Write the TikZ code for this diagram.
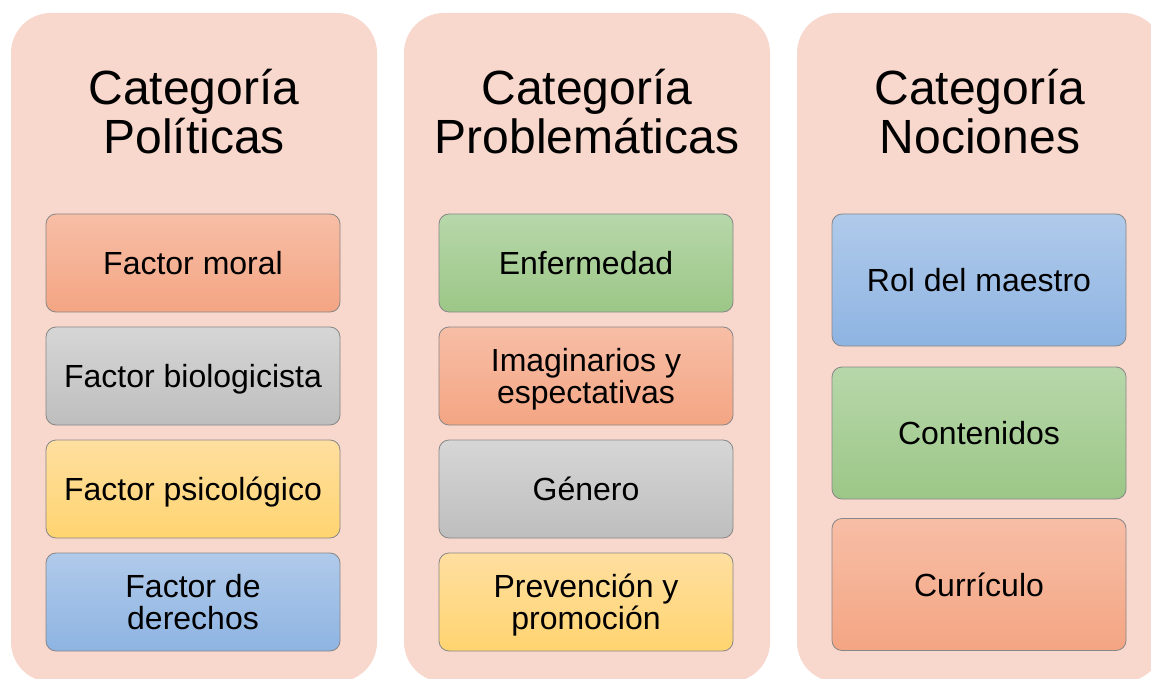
\documentclass[tikz,border=0pt]{standalone}
\usepackage{fontspec}
\setmainfont{Liberation Sans}
\definecolor{panelfill}{RGB}{248,215,205}
\definecolor{edge}{RGB}{135,135,135}
\definecolor{orangetop}{RGB}{247,190,166}
\definecolor{orangebot}{RGB}{244,165,131}
\definecolor{greytop}{RGB}{214,214,214}
\definecolor{greybot}{RGB}{190,190,190}
\definecolor{yellowtop}{RGB}{255,223,160}
\definecolor{yellowbot}{RGB}{255,212,112}
\definecolor{bluetop}{RGB}{176,202,234}
\definecolor{bluebot}{RGB}{142,180,226}
\definecolor{greentop}{RGB}{183,215,170}
\definecolor{greenbot}{RGB}{156,199,135}
\tikzset{
  panel/.style={fill=panelfill, rounded corners=40pt, minimum width=366pt, minimum height=669pt, inner sep=0pt},
  title/.style={align=center, anchor=base, inner sep=0pt, font=\fontsize{48}{49}\selectfont},
  item/.style={draw=edge, line width=0.8pt, rounded corners=10pt, minimum width=294pt, minimum height=98pt, inner sep=0pt, align=center, font=\fontsize{32}{32}\selectfont, text height=23pt, text depth=0pt},
  twoline/.style={text height=55pt},
  tall/.style={minimum height=132pt},
  orangebox/.style={top color=orangetop, bottom color=orangebot},
  greybox/.style={top color=greytop, bottom color=greybot},
  yellowbox/.style={top color=yellowtop, bottom color=yellowbot},
  bluebox/.style={top color=bluetop, bottom color=bluebot},
  greenbox/.style={top color=greentop, bottom color=greenbot}
}
\begin{document}
\begin{tikzpicture}[x=1pt, y=-1pt]
            \useasboundingbox (0,0) rectangle (1151,679);
            \node (pol) at (194,347.5) [panel] {};
            \node (pro) at (587,347.5) [panel] {};
            \node (noc) at (980,347.5) [panel] {};
            
            \node (tpol) at (194,154) [title] {Categoría\\Políticas};
            \node (tpro) at (587,154) [title] {Categoría\\Problemáticas};
            \node (tnoc) at (980,154) [title] {Categoría\\Nociones};
            
            % politicas
            \node (moral) at (193,263) [item, orangebox] {Factor moral};
            \node (bio) at (193,376) [item, greybox] {Factor biologicista};
            \node (psico) at (193,489) [item, yellowbox] {Factor psicológico};
            \node (der) at (193,602) [item, twoline, bluebox] {Factor de\\derechos};
            
            % problematicas
            \node (enf) at (586,263) [item, greenbox] {Enfermedad};
            \node (ima) at (586,376) [item, twoline, orangebox] {Imaginarios y\\espectativas};
            \node (gen) at (586,489) [item, greybox] {Género};
            \node (prev) at (586,602) [item, twoline, yellowbox] {Prevención y\\promoción};
            
            % nociones
            \node (rol) at (979,280) [item, tall, bluebox] {Rol del maestro};
            \node (cont) at (979,433) [item, tall, greenbox] {Contenidos};
            \node (curr) at (979,584.5) [item, tall, orangebox] {Currículo};
        \end{tikzpicture}
\end{document}
